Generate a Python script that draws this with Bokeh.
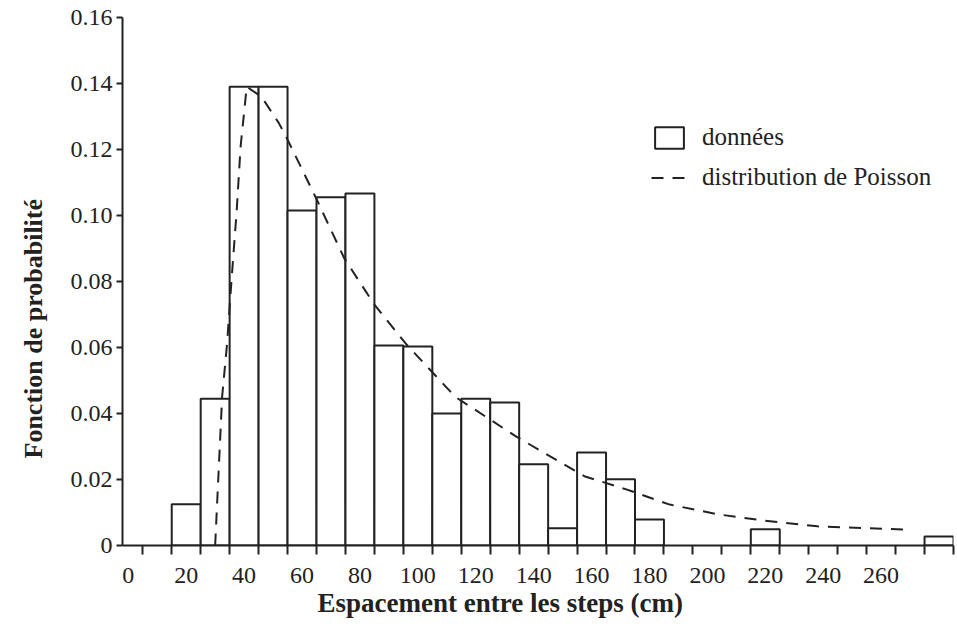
from bokeh.embed import file_html
from bokeh.resources import INLINE
from bokeh.plotting import figure
from bokeh.models import (ColumnDataSource, FixedTicker, Legend, LegendItem,
                          NumeralTickFormatter, Range1d, Title)

# Histogram of step spacing: bin centres (cm), bin width 10 cm
bin_centres = [20, 30, 40, 50, 60, 70, 80, 90, 100, 110, 120, 130, 140, 150,
               160, 170, 180, 190, 200, 210, 220, 230, 240, 250, 260, 270, 280]
probabilities = [0.0125, 0.0445, 0.139, 0.139, 0.1015, 0.1055, 0.1067, 0.0606,
                 0.0603, 0.040, 0.0445, 0.0433, 0.0246, 0.0052, 0.0282, 0.0201,
                 0.0079, 0.0, 0.0, 0.0, 0.0049, 0.0, 0.0, 0.0, 0.0, 0.0, 0.0027]
bin_width = 10

# Fitted Poisson-type distribution (dashed curve)
poisson_x = [30, 32.4, 34.1, 35.7, 37.4, 38.8, 40.9, 46, 52, 55, 65, 74.6, 85,
             96, 113, 134, 157.5, 172, 187, 204, 219, 238, 270]
poisson_y = [0.0, 0.045, 0.061, 0.081, 0.101, 0.121, 0.139, 0.136, 0.128,
             0.123, 0.105, 0.087, 0.073, 0.061, 0.045, 0.033, 0.021, 0.017,
             0.0124, 0.0094, 0.0076, 0.0058, 0.0048]

x_tick_labels = [0, 20, 40, 60, 80, 100, 120, 140, 160, 180, 200, 220, 240, 260]
y_ticks = [0, 0.02, 0.04, 0.06, 0.08, 0.10, 0.12, 0.14, 0.16]

SERIF = "Liberation Serif"
INK = "#222222"

nonzero = [(c, v) for c, v in zip(bin_centres, probabilities) if v > 0]
bars = ColumnDataSource(dict(x=[c for c, _ in nonzero],
                             top=[v for _, v in nonzero]))
curve = ColumnDataSource(dict(x=poisson_x, y=poisson_y))

p = figure(width=957, height=626, output_backend="svg", toolbar_location=None,
           x_range=Range1d(-2, 285), y_range=Range1d(0, 0.16),
           min_border_left=122, min_border_right=4,
           min_border_top=17, min_border_bottom=81)
p.outline_line_color = None
p.xgrid.visible = False
p.ygrid.visible = False
p.background_fill_color = "white"

r_bars = p.vbar(x="x", top="top", width=bin_width, bottom=0, source=bars,
                fill_color="white", line_color=INK, line_width=2)
r_curve = p.line(x="x", y="y", source=curve, line_color=INK,
                 line_width=2, line_dash="12 9")

# x axis: bin edges as tick marks, labels every 20 cm
xa = p.xaxis[0]
xa.ticker = FixedTicker(ticks=x_tick_labels,
                        minor_ticks=[5 + 10 * k for k in range(29)])
xa.major_tick_line_color = None
xa.minor_tick_line_color = INK
xa.minor_tick_line_width = 2
xa.minor_tick_out = 9
xa.minor_tick_in = 0
xa.axis_line_width = 2
xa.axis_line_color = INK
xa.major_label_standoff = 13
xa.major_label_text_font = SERIF
xa.major_label_text_font_size = "24px"
xa.major_label_text_color = INK

ya = p.yaxis[0]
ya.ticker = FixedTicker(ticks=y_ticks, minor_ticks=[])
ya.formatter = NumeralTickFormatter(format="0.00")
ya.major_label_overrides = {0: "0"}
ya.major_tick_out = 6
ya.major_tick_in = 0
ya.major_tick_line_width = 2
ya.major_tick_line_color = INK
ya.axis_line_width = 2
ya.axis_line_color = INK
ya.major_label_standoff = 4
ya.major_label_text_font = SERIF
ya.major_label_text_font_size = "24px"
ya.major_label_text_color = INK

# Axis titles as side panels
p.add_layout(Title(text="Espacement entre les steps (cm)", align="left",
                   offset=195, standoff=0, text_font=SERIF,
                   text_font_size="27px", text_font_style="bold",
                   text_color=INK), "below")
p.add_layout(Title(text="Fonction de probabilité", align="left",
                   vertical_align="top", offset=87, standoff=36,
                   text_font=SERIF, text_font_size="26px",
                   text_font_style="bold", text_color=INK), "left")

legend = Legend(items=[LegendItem(label="données", renderers=[r_bars]),
                       LegendItem(label="distribution de Poisson",
                                  renderers=[r_curve])],
                location=(529, 354), orientation="vertical",
                border_line_color=None, background_fill_alpha=0,
                padding=0, margin=0, spacing=12,
                glyph_width=36, glyph_height=27, label_height=22,
                label_standoff=15, label_text_font=SERIF,
                label_text_font_size="25px", label_text_color=INK,
                label_text_baseline="middle")
p.add_layout(legend)

open("out.html", "w").write(file_html(p, INLINE))
